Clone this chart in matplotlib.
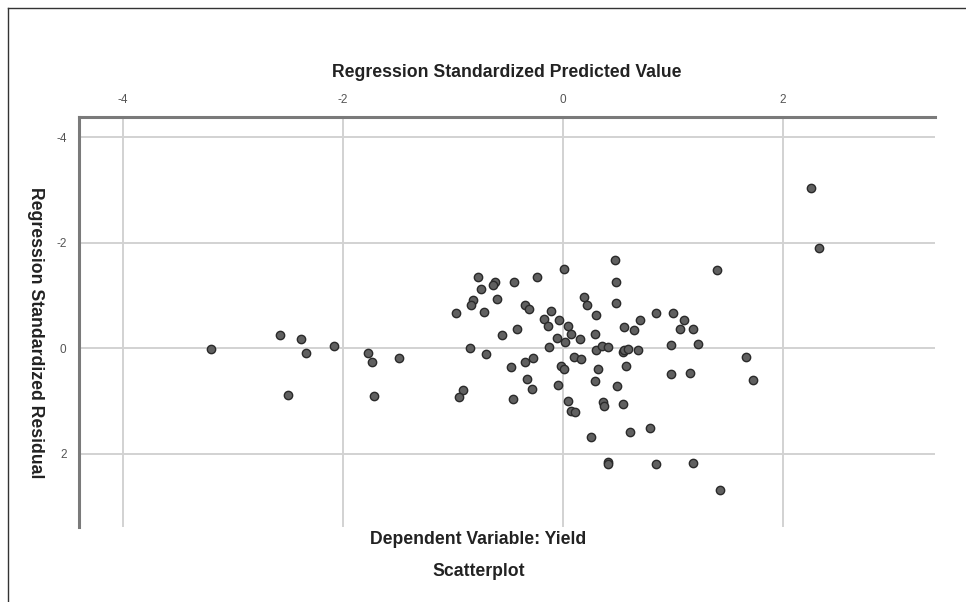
import numpy as np
import matplotlib
matplotlib.use("Agg")
import matplotlib.pyplot as plt
from matplotlib.lines import Line2D

plt.rcParams['font.family'] = ['Liberation Sans', 'DejaVu Sans']

# standardized predicted values / standardized residuals (n = 100)
pred = [-3.20, -2.57, -2.38, -2.34, -2.08, -1.77, -1.74, -1.49, -2.50, -1.72,
        0.01, -0.77, -0.62, -0.64, -0.45, -0.24, -0.75, -0.82, -0.84, -0.60,
        -0.97, -0.72, -0.35, -0.31, -0.11, -0.17, -0.04, -0.14, 0.04, 0.07,
        0.15, -0.06, 0.02, 0.19, 0.22, 0.30, 0.29, -0.42, -0.56, -0.85,
        -0.70, -0.13, 0.30, 0.35, 0.41, 0.10, 0.16, -0.27, -0.35, -0.47,
        -0.02, 0.01, 0.32, -0.33, -0.28, -0.05, 0.29, -0.91, -0.95, -0.46,
        0.04, 0.07, 0.11, 0.36, 0.37, 0.25, 0.47, 1.40, 0.48, 0.48,
        0.84, 1.00, 1.10, 0.70, 0.55, 0.64, 1.06, 1.18, 0.54, 0.55,
        0.59, 0.68, 0.98, 1.23, 0.57, 0.49, 0.98, 1.15, 0.54, 0.61,
        0.79, 0.41, 0.41, 0.84, 1.18, 1.43, 1.66, 1.73, 2.25, 2.33]
resid = [0.02, -0.25, -0.17, 0.10, -0.04, 0.09, 0.27, 0.18, 0.89, 0.91,
         -1.50, -1.34, -1.26, -1.19, -1.25, -1.35, -1.12, -0.92, -0.82, -0.93,
         -0.66, -0.68, -0.82, -0.75, -0.70, -0.56, -0.54, -0.42, -0.42, -0.27,
         -0.18, -0.19, -0.12, -0.97, -0.81, -0.63, -0.26, -0.36, -0.25, -0.01,
         0.12, -0.02, 0.04, -0.04, -0.02, 0.17, 0.21, 0.19, 0.26, 0.36,
         0.34, 0.39, 0.39, 0.58, 0.77, 0.70, 0.62, 0.79, 0.92, 0.96,
         1.00, 1.19, 1.22, 1.02, 1.09, 1.68, -1.67, -1.49, -1.26, -0.86,
         -0.67, -0.66, -0.54, -0.53, -0.40, -0.34, -0.36, -0.36, 0.08, 0.04,
         0.01, 0.04, -0.05, -0.07, 0.34, 0.71, 0.49, 0.48, 1.05, 1.59,
         1.51, 2.16, 2.20, 2.19, 2.18, 2.69, 0.16, 0.61, -3.03, -1.90]

xticks = [-4, -2, 0, 2]
yticks = [-4, -2, 0, 2]

fig = plt.figure(figsize=(9.66, 6.02), dpi=100)
ax = fig.add_axes([0.0818, 0.1246, 0.8861, 0.681])

ax.scatter(pred, resid, s=36, facecolor='#606060', edgecolor='#2a2a2a',
           linewidths=1.0, zorder=3)

ax.set_xlim(-4.40, 3.38)
ax.set_ylim(3.39, -4.38)
ax.set_xticks(xticks)
ax.set_yticks(yticks)
ax.set_xticklabels([str(t) for t in xticks])
ax.set_yticklabels([str(t) for t in yticks])
ax.xaxis.tick_top()
ax.tick_params(length=0, labelsize=8.5, colors='#555555')
ax.tick_params(axis='x', pad=8)
ax.tick_params(axis='y', pad=9)
ax.grid(True, color='#d2d2d2', linewidth=1.4, zorder=0)
ax.set_axisbelow(True)

for side in ['right', 'bottom']:
    ax.spines[side].set_visible(False)
for side in ['top', 'left']:
    ax.spines[side].set_color('#7a7a7a')
    ax.spines[side].set_linewidth(2.2)

lab = dict(fontsize=12.7, fontweight='bold', color='#222222')
ax.set_xlabel('Regression Standardized Predicted Value', labelpad=12, **lab)
ax.xaxis.set_label_position('top')
ax.set_ylabel('Regression Standardized Residual', rotation=270,
              va='center', **lab)
ax.yaxis.set_label_coords(-0.051, 0.475)

fig.text(0.495, 1 - 540 / 602, 'Dependent Variable: Yield', ha='center',
         va='center', **lab)
fig.text(0.496, 1 - 571 / 602, 'Scatterplot', ha='center', va='center', **lab)

# outer frame (top and left edges)
fx, fy = 8 / 966, 1 - 8 / 602
fig.add_artist(Line2D([fx, 1], [fy, fy], color='#333333', linewidth=1))
fig.add_artist(Line2D([fx, fx], [0, fy], color='#333333', linewidth=1))

fig.savefig('out.png', dpi=100)
